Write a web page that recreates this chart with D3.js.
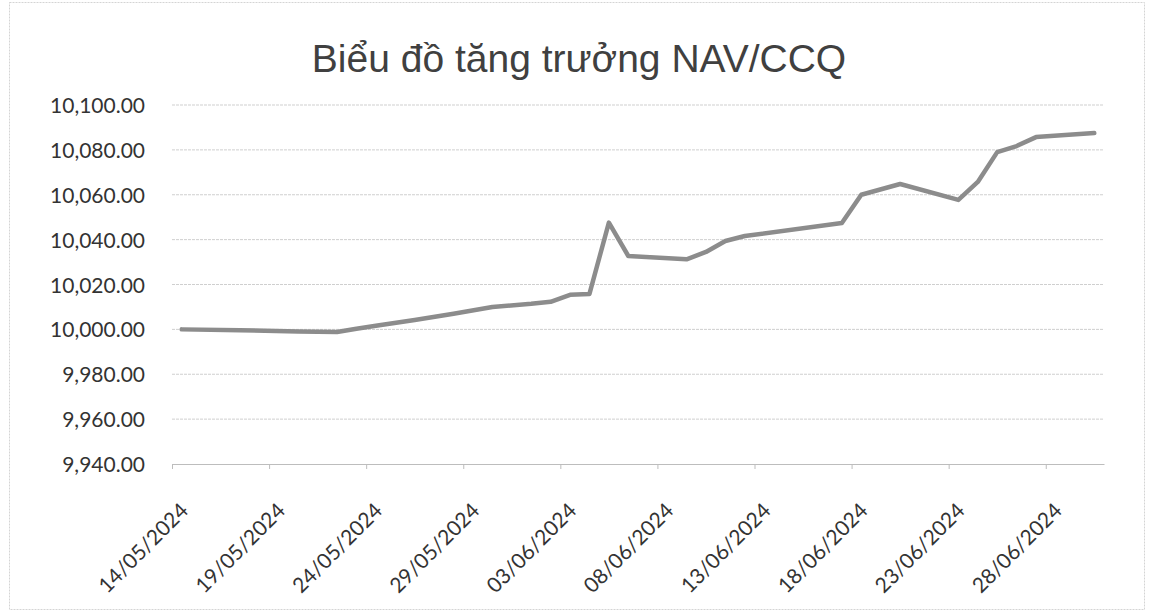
<!DOCTYPE html>
<html>
<head>
<meta charset="utf-8">
<script src="https://cdn.jsdelivr.net/npm/d3@7"></script>
<style>
  body { margin: 0; background: #fff; }
  .tick text { font-family: Lato, "Open Sans", sans-serif; fill: #333; }
</style>
</head>
<body>
<div id="chart"></div>
<script>
var svgWidth = 1153;
var svgHeight = 612;

var margin = { top: 105, right: 49, bottom: 148, left: 172 };
var width = svgWidth - margin.left - margin.right;
var height = svgHeight - margin.top - margin.bottom;

var title = "Biểu đồ tăng trưởng NAV/CCQ";

// NAV per fund unit
var dates = ["14/05/2024", "17/05/2024", "20/05/2024", "22/05/2024", "23/05/2024", "24/05/2024",
    "26/05/2024", "28/05/2024", "30/05/2024", "01/06/2024", "02/06/2024", "03/06/2024",
    "04/06/2024", "05/06/2024", "06/06/2024", "09/06/2024", "10/06/2024", "11/06/2024",
    "12/06/2024", "17/06/2024", "18/06/2024", "20/06/2024", "23/06/2024", "24/06/2024",
    "25/06/2024", "26/06/2024", "27/06/2024", "30/06/2024"];
var navValues = [10000.0, 9999.6, 9999.1, 9998.8, 10000.3, 10001.6,
    10004.2, 10007.0, 10010.0, 10011.4, 10012.3, 10015.4,
    10015.8, 10047.6, 10032.7, 10031.2, 10034.5, 10039.4,
    10041.6, 10047.4, 10060.0, 10064.8, 10057.7, 10065.7,
    10079.0, 10081.7, 10085.7, 10087.5];

var xTickLabels = ["14/05/2024", "19/05/2024", "24/05/2024", "29/05/2024", "03/06/2024",
    "08/06/2024", "13/06/2024", "18/06/2024", "23/06/2024", "28/06/2024"];
var yTicks = [9940, 9960, 9980, 10000, 10020, 10040, 10060, 10080, 10100];
var xStart = "14/05/2024";
var xEnd = "01/07/2024";

var parseDate = d3.timeParse("%d/%m/%Y");
var formatDate = d3.timeFormat("%d/%m/%Y");

var data = dates.map(function (d, i) {
    return { date: parseDate(d), nav: navValues[i] };
});

var svg = d3.select("#chart")
    .append("svg")
    .attr("width", svgWidth)
    .attr("height", svgHeight);

// chart area border
svg.append("rect")
    .attr("x", 9.5)
    .attr("y", 2.5)
    .attr("width", 1135)
    .attr("height", 607)
    .attr("fill", "none")
    .attr("stroke", "#d4d4d4")
    .attr("stroke-dasharray", "2,1");

svg.append("text")
    .attr("x", 579)
    .attr("y", 72)
    .attr("text-anchor", "middle")
    .attr("font-family", "'Liberation Sans', Arial, sans-serif")
    .attr("font-size", 39)
    .attr("fill", "#404040")
    .text(title);

var chartGroup = svg.append("g")
    .attr("transform", `translate(${margin.left}, ${margin.top})`);

var xTimeScale = d3.scaleTime()
    .domain([parseDate(xStart), parseDate(xEnd)])
    .range([0, width]);

var yLinearScale = d3.scaleLinear()
    .domain([9940, 10100])
    .range([height, 0]);

// gridlines
chartGroup.append("g")
    .selectAll("line")
    .data(yTicks.slice(1))
    .enter()
    .append("line")
    .attr("x1", 0)
    .attr("x2", width)
    .attr("y1", d => yLinearScale(d))
    .attr("y2", d => yLinearScale(d))
    .attr("stroke", "#cfcfcf")
    .attr("stroke-width", 1)
    .attr("stroke-dasharray", "3,1");

var leftAxis = d3.axisLeft(yLinearScale)
    .tickValues(yTicks)
    .tickFormat(d3.format(",.2f"))
    .tickSize(0)
    .tickPadding(27);

var yAxis = chartGroup.append("g").call(leftAxis);
yAxis.select(".domain").remove();
yAxis.selectAll("text")
    .attr("font-size", 21)
    .attr("dy", "0.36em");

var bottomAxis = d3.axisBottom(xTimeScale)
    .tickValues(xTickLabels.map(parseDate))
    .tickFormat(formatDate)
    .tickSizeInner(5)
    .tickSizeOuter(0);

var xAxis = chartGroup.append("g")
    .attr("transform", `translate(0, ${height})`)
    .call(bottomAxis);
xAxis.select(".domain").attr("stroke", "#bdbdbd");
xAxis.selectAll("line").attr("stroke", "#bdbdbd");
xAxis.selectAll("text")
    .attr("font-size", 21)
    .attr("x", 0)
    .attr("y", 0)
    .attr("dy", 0)
    .attr("text-anchor", "end")
    .attr("transform", "translate(17, 48) rotate(-45)");

// points sit in the middle of their day
var halfDay = 12 * 3600 * 1000;
var navLine = d3.line()
    .x(d => xTimeScale(new Date(d.date.getTime() + halfDay)))
    .y(d => yLinearScale(d.nav));

chartGroup.append("path")
    .datum(data)
    .attr("d", navLine)
    .attr("fill", "none")
    .attr("stroke", "#8c8c8c")
    .attr("stroke-width", 4.5)
    .attr("stroke-linejoin", "round")
    .attr("stroke-linecap", "round");
</script>
</body>
</html>
